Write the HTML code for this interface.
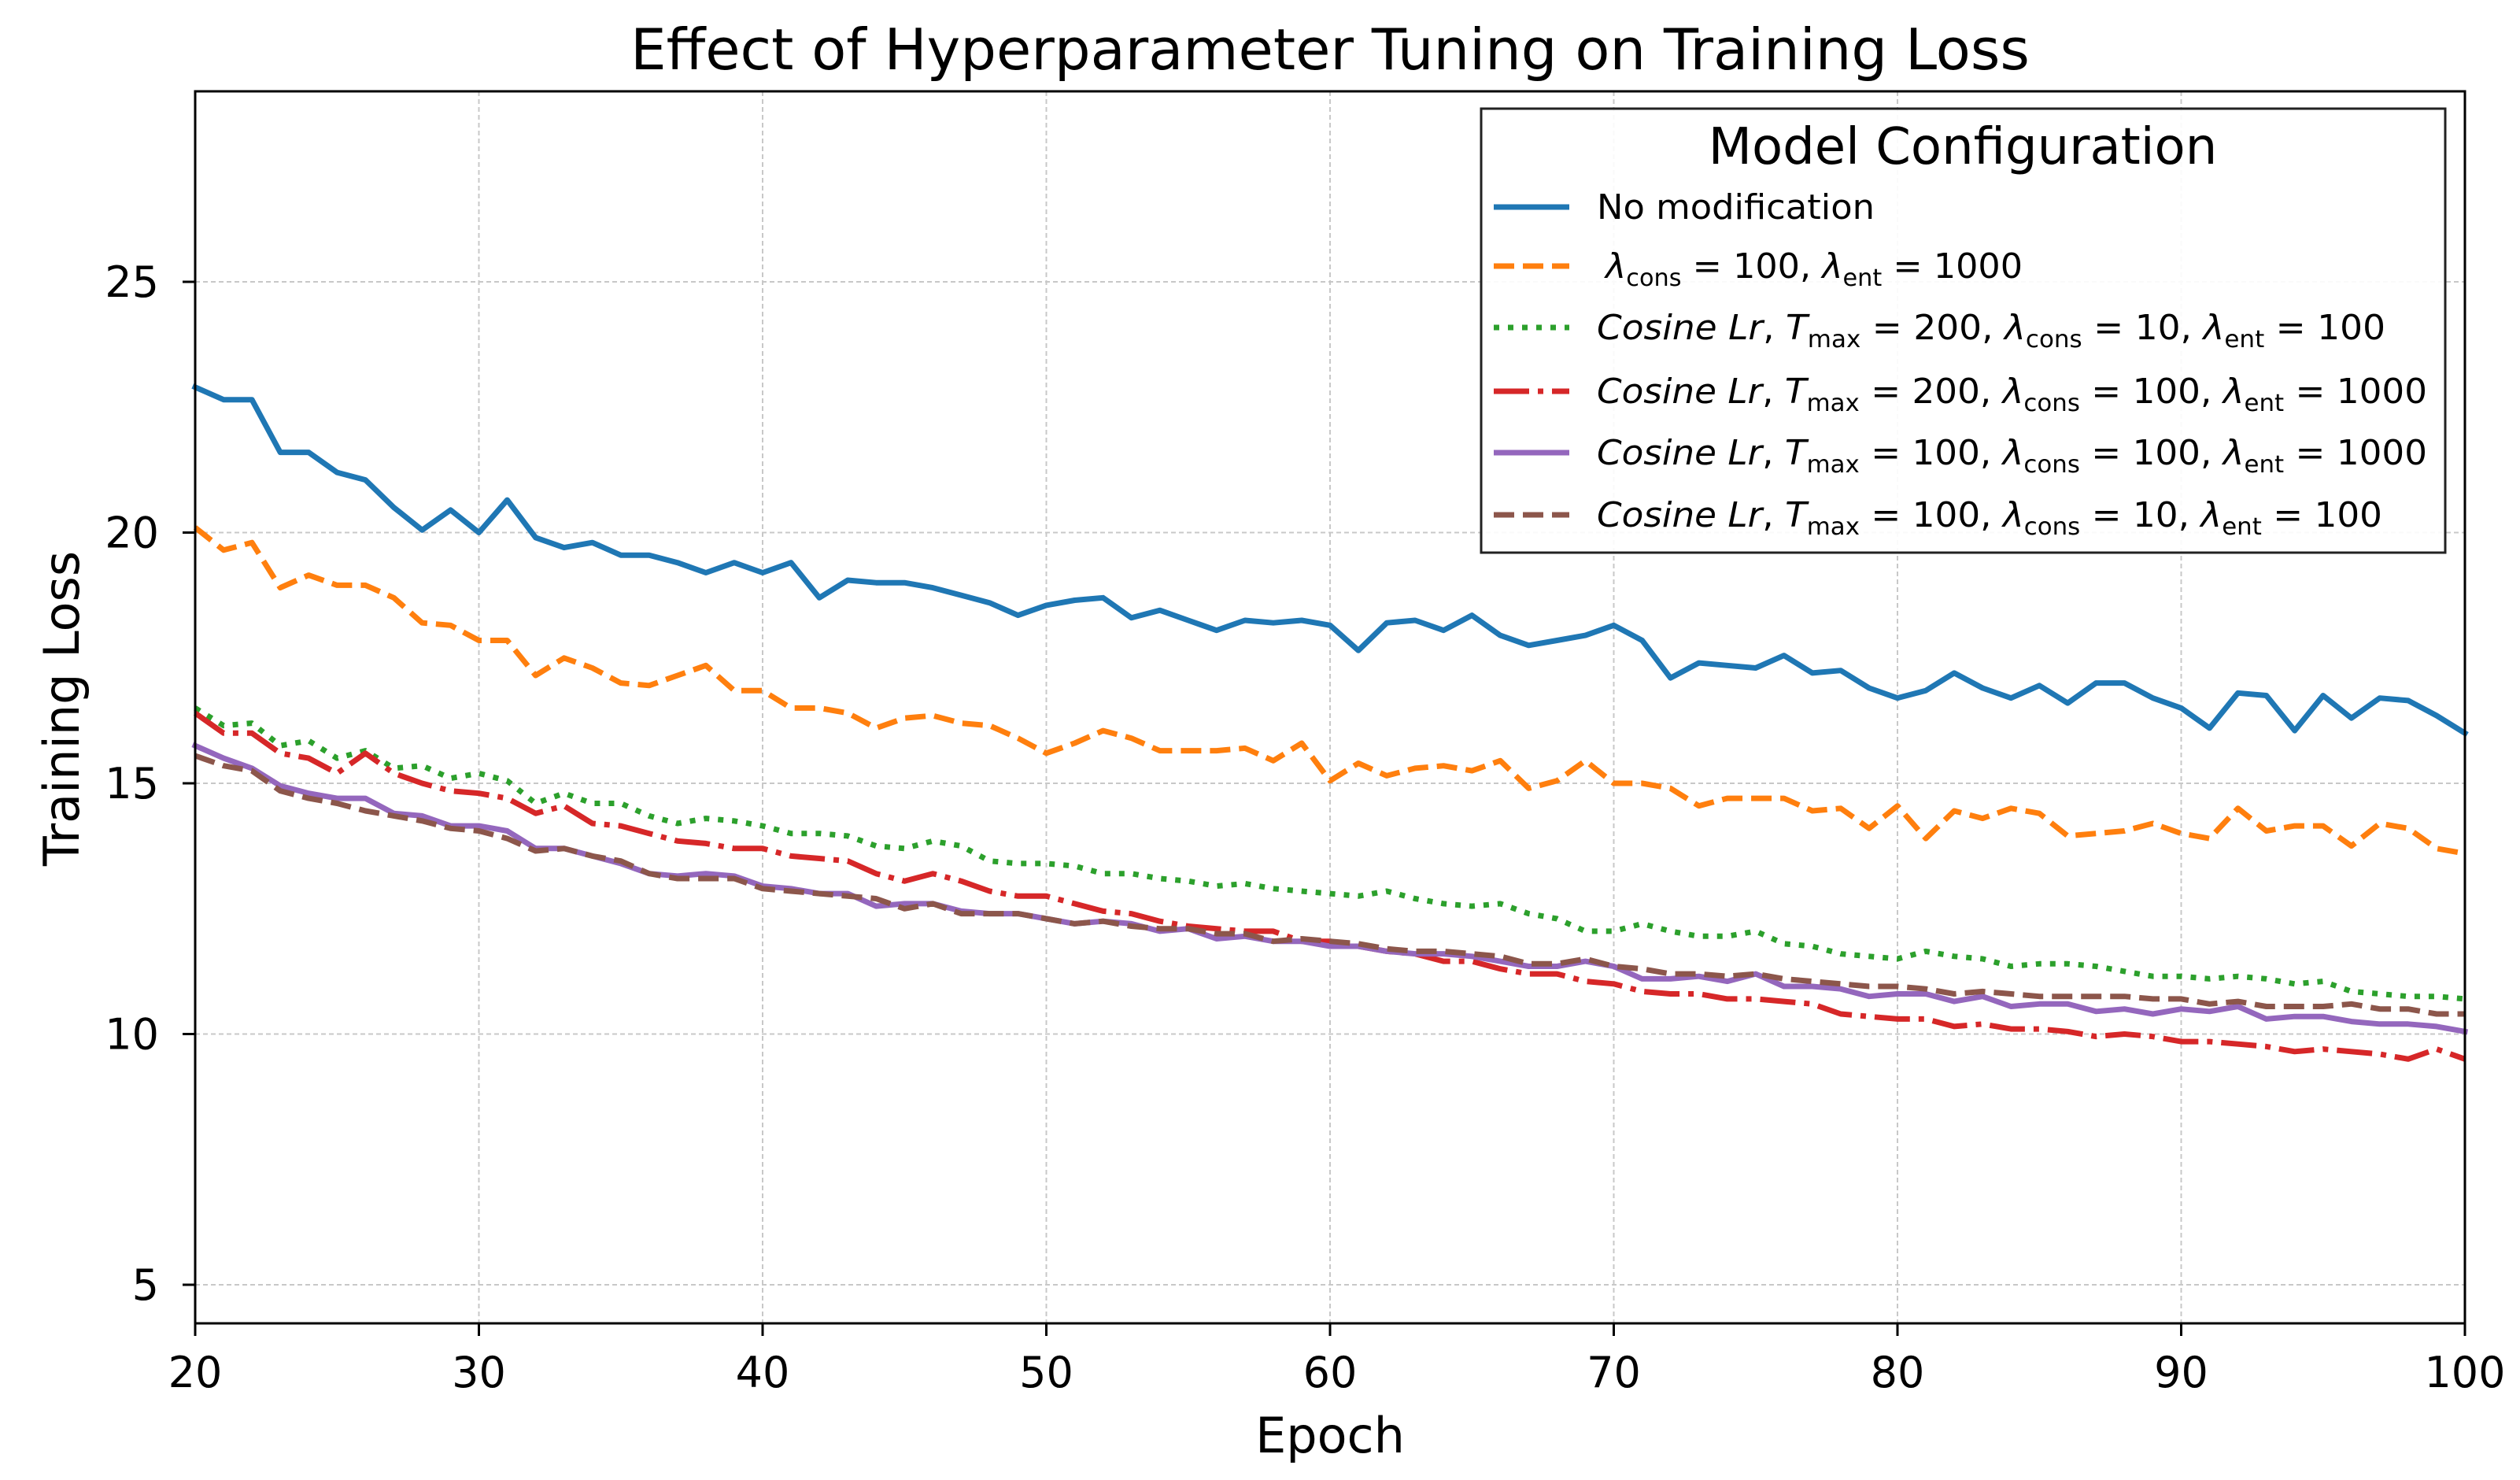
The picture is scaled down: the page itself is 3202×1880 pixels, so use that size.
<!DOCTYPE html>
<html><head><meta charset="utf-8"><style>
html,body{margin:0;padding:0;background:#fff;}
svg{display:block;font-family:"DejaVu Sans","Liberation Sans",sans-serif;}
</style></head><body>
<svg id="chart" width="3202" height="1880" viewBox="0 0 3202 1880" xmlns="http://www.w3.org/2000/svg">
<rect width="3202" height="1880" fill="#fff"/>
<g id="grid"></g>
<g id="series"></g>
<rect x="248" y="116" width="2884" height="1565" fill="none" stroke="#000" stroke-width="3"/>
<g id="ticks"></g>
<text x="1690" y="88" font-size="72" text-anchor="middle">Effect of Hyperparameter Tuning on Training Loss</text>
<text x="1690" y="1845" font-size="62" text-anchor="middle">Epoch</text>
<text x="0" y="0" font-size="62" text-anchor="middle" transform="translate(100,900) rotate(-90)">Training Loss</text>
<g id="legend">
<rect x="1882" y="138" width="1225" height="564" fill="#fff" fill-opacity="0.9" stroke="#222" stroke-width="3"/>
<text x="2494" y="208" font-size="64" text-anchor="middle">Model Configuration</text>
</g>
</svg>
<script>
const epochs = [];
for (let e = 20; e <= 100; e++) epochs.push(e);
const noModification = [22.9,22.65,22.65,21.6,21.6,21.2,21.05,20.5,20.05,20.45,20.0,20.65,19.9,19.7,19.8,19.55,19.55,19.4,19.2,19.4,19.2,19.4,18.7,19.05,19.0,19.0,18.9,18.75,18.6,18.35,18.55,18.65,18.7,18.3,18.45,18.25,18.05,18.25,18.2,18.25,18.15,17.65,18.2,18.25,18.05,18.35,17.95,17.75,17.85,17.95,18.15,17.85,17.1,17.4,17.35,17.3,17.55,17.2,17.25,16.9,16.7,16.85,17.2,16.9,16.7,16.95,16.6,17.0,17.0,16.7,16.5,16.1,16.8,16.75,16.05,16.75,16.3,16.7,16.65,16.35,16.0];
const cons100ent1000 = [20.1,19.65,19.8,18.9,19.15,18.95,18.95,18.7,18.2,18.15,17.85,17.85,17.15,17.5,17.3,17.0,16.95,17.15,17.35,16.85,16.85,16.5,16.5,16.4,16.1,16.3,16.35,16.2,16.15,15.9,15.6,15.8,16.05,15.9,15.65,15.65,15.65,15.7,15.45,15.8,15.05,15.4,15.15,15.3,15.35,15.25,15.45,14.9,15.05,15.45,15.0,15.0,14.9,14.55,14.7,14.7,14.7,14.45,14.5,14.1,14.55,13.9,14.45,14.3,14.5,14.4,13.95,14.0,14.05,14.2,14.0,13.9,14.5,14.05,14.15,14.15,13.75,14.2,14.1,13.7,13.6];
const cosT200c10e100 = [16.5,16.15,16.2,15.75,15.85,15.5,15.65,15.3,15.35,15.1,15.2,15.05,14.6,14.8,14.6,14.6,14.35,14.2,14.3,14.25,14.15,14.0,14.0,13.95,13.75,13.7,13.85,13.75,13.45,13.4,13.4,13.35,13.2,13.2,13.1,13.05,12.95,13.0,12.9,12.85,12.8,12.75,12.85,12.7,12.6,12.55,12.6,12.4,12.3,12.05,12.05,12.2,12.05,11.95,11.95,12.05,11.8,11.75,11.6,11.55,11.5,11.65,11.55,11.5,11.35,11.4,11.4,11.35,11.25,11.15,11.15,11.1,11.15,11.1,11.0,11.05,10.85,10.8,10.75,10.75,10.7];
const cosT200c100e1000 = [16.4,16.0,16.0,15.6,15.5,15.2,15.6,15.2,15.0,14.85,14.8,14.7,14.4,14.55,14.2,14.15,14.0,13.85,13.8,13.7,13.7,13.55,13.5,13.45,13.2,13.05,13.2,13.05,12.85,12.75,12.75,12.6,12.45,12.4,12.25,12.15,12.1,12.05,12.05,11.85,11.85,11.75,11.65,11.6,11.45,11.45,11.3,11.2,11.2,11.05,11.0,10.85,10.8,10.8,10.7,10.7,10.65,10.6,10.4,10.35,10.3,10.3,10.15,10.2,10.1,10.1,10.05,9.95,10.0,9.95,9.85,9.85,9.8,9.75,9.65,9.7,9.65,9.6,9.5,9.7,9.5];
const cosT100c100e1000 = [15.75,15.5,15.3,14.95,14.8,14.7,14.7,14.4,14.35,14.15,14.15,14.05,13.7,13.7,13.55,13.4,13.2,13.15,13.2,13.15,12.95,12.9,12.8,12.8,12.55,12.6,12.6,12.45,12.4,12.4,12.3,12.2,12.25,12.2,12.05,12.1,11.9,11.95,11.85,11.85,11.75,11.75,11.65,11.6,11.6,11.55,11.45,11.35,11.35,11.45,11.35,11.1,11.1,11.15,11.05,11.2,10.95,10.95,10.9,10.75,10.8,10.8,10.65,10.75,10.55,10.6,10.6,10.45,10.5,10.4,10.5,10.45,10.55,10.3,10.35,10.35,10.25,10.2,10.2,10.15,10.05];
const cosT100c10e100 = [15.55,15.35,15.25,14.85,14.7,14.6,14.45,14.35,14.25,14.1,14.05,13.9,13.65,13.7,13.55,13.45,13.2,13.1,13.1,13.1,12.9,12.85,12.8,12.75,12.7,12.5,12.6,12.4,12.4,12.4,12.3,12.2,12.25,12.15,12.1,12.1,12.0,12.0,11.85,11.9,11.85,11.8,11.7,11.65,11.65,11.6,11.55,11.4,11.4,11.5,11.35,11.3,11.2,11.2,11.15,11.2,11.1,11.05,11.0,10.95,10.95,10.9,10.8,10.85,10.8,10.75,10.75,10.75,10.75,10.7,10.7,10.6,10.65,10.55,10.55,10.55,10.6,10.5,10.5,10.4,10.4];
const xTicks = [20,30,40,50,60,70,80,90,100];
const yTicks = [5,10,15,20,25];

const X0=248, X1=3132, Y0=116, Y1=1681, XMIN=20, XMAX=100;
const sx = v => X0 + (v-XMIN)/(XMAX-XMIN)*(X1-X0);
const sy = v => 1632 - (v-5)*63.7;
const NS = "http://www.w3.org/2000/svg";
function mk(tag, attrs, parent){ const el=document.createElementNS(NS,tag); for(const k in attrs) el.setAttribute(k,attrs[k]); parent.appendChild(el); return el; }

const grid=document.getElementById('grid'), ticks=document.getElementById('ticks');
xTicks.forEach(t=>{
  const x=sx(t);
  const g=mk('line',{x1:x,x2:x,y1:Y0,y2:Y1,stroke:'#c8c8c8','stroke-width':2,'stroke-dasharray':'6,4'},grid);
  
  
  const tk=mk('line',{x1:x,x2:x,y1:Y1,y2:Y1+16,stroke:'#000','stroke-width':3},ticks);
  
  
  const tl=mk('text',{x:x,y:1762,'font-size':54,'text-anchor':'middle'},ticks);
  tl.textContent=t;
  
  
});
yTicks.forEach(t=>{
  const y=sy(t);
  const g=mk('line',{x1:X0,x2:X1,y1:y,y2:y,stroke:'#c8c8c8','stroke-width':2,'stroke-dasharray':'6,4'},grid);
  
  
  const tk=mk('line',{x1:X0-16,x2:X0,y1:y,y2:y,stroke:'#000','stroke-width':3},ticks);
  
  
  const tl=mk('text',{x:202,y:y+19,'font-size':54,'text-anchor':'end'},ticks);
  tl.textContent=t;
  
  
});

const seriesDefs=[
 {name:'series-no-modification',data:noModification,color:'#1f77b4',dash:'',cap:'square'},
 {name:'series-cons100-ent1000',data:cons100ent1000,color:'#ff7f0e',dash:'26,11',cap:'butt'},
 {name:'series-cosine-t200-cons10-ent100',data:cosT200c10e100,color:'#2ca02c',dash:'7,11',cap:'butt'},
 {name:'series-cosine-t200-cons100-ent1000',data:cosT200c100e1000,color:'#d62728',dash:'45,11,7,11',cap:'butt'},
 {name:'series-cosine-t100-cons100-ent1000',data:cosT100c100e1000,color:'#9467bd',dash:'',cap:'square'},
 {name:'series-cosine-t100-cons10-ent100',data:cosT100c10e100,color:'#8c564b',dash:'26,11',cap:'butt'}
];
const sg=document.getElementById('series');
seriesDefs.forEach(s=>{
  const d=s.data.map((v,i)=>(i?'L':'M')+sx(epochs[i]).toFixed(1)+','+sy(v).toFixed(1)).join(' ');
  const p=mk('path',{d:d,fill:'none',stroke:s.color,'stroke-width':7,'stroke-linejoin':'round','stroke-linecap':s.cap},sg);
  if(s.dash) p.setAttribute('stroke-dasharray',s.dash);
  
  
});

const lg=document.getElementById('legend');
const rowsY=[263,338,416,497,575,654];
const labels=[
 {html:'No modification',len:353},
 {html:'<tspan font-style="italic">λ</tspan><tspan font-size="30" dy="10">cons</tspan><tspan dy="-10"> = 100,  </tspan><tspan font-style="italic">λ</tspan><tspan font-size="30" dy="10">ent</tspan><tspan dy="-10"> = 1000</tspan>',len:530,x:2040},
 {html:'<tspan font-style="italic">Cosine Lr</tspan>,  <tspan font-style="italic">T</tspan><tspan font-size="30" dy="10">max</tspan><tspan dy="-10"> = 200,  </tspan><tspan font-style="italic">λ</tspan><tspan font-size="30" dy="10">cons</tspan><tspan dy="-10"> = 10,  </tspan><tspan font-style="italic">λ</tspan><tspan font-size="30" dy="10">ent</tspan><tspan dy="-10"> = 100</tspan>',len:1002},
 {html:'<tspan font-style="italic">Cosine Lr</tspan>,  <tspan font-style="italic">T</tspan><tspan font-size="30" dy="10">max</tspan><tspan dy="-10"> = 200,  </tspan><tspan font-style="italic">λ</tspan><tspan font-size="30" dy="10">cons</tspan><tspan dy="-10"> = 100,  </tspan><tspan font-style="italic">λ</tspan><tspan font-size="30" dy="10">ent</tspan><tspan dy="-10"> = 1000</tspan>',len:1055},
 {html:'<tspan font-style="italic">Cosine Lr</tspan>,  <tspan font-style="italic">T</tspan><tspan font-size="30" dy="10">max</tspan><tspan dy="-10"> = 100,  </tspan><tspan font-style="italic">λ</tspan><tspan font-size="30" dy="10">cons</tspan><tspan dy="-10"> = 100,  </tspan><tspan font-style="italic">λ</tspan><tspan font-size="30" dy="10">ent</tspan><tspan dy="-10"> = 1000</tspan>',len:1055},
 {html:'<tspan font-style="italic">Cosine Lr</tspan>,  <tspan font-style="italic">T</tspan><tspan font-size="30" dy="10">max</tspan><tspan dy="-10"> = 100,  </tspan><tspan font-style="italic">λ</tspan><tspan font-size="30" dy="10">cons</tspan><tspan dy="-10"> = 10,  </tspan><tspan font-style="italic">λ</tspan><tspan font-size="30" dy="10">ent</tspan><tspan dy="-10"> = 100</tspan>',len:998}
];
seriesDefs.forEach((s,i)=>{
  const y=rowsY[i];
  const h=mk('line',{x1:1898,x2:1994,y1:y,y2:y,stroke:s.color,'stroke-width':7,'stroke-linecap':'butt'},lg);
  if(s.dash) h.setAttribute('stroke-dasharray',s.dash);
  
  
  const t=mk('text',{x:labels[i].x||2029,y:y+15,'font-size':44,textLength:labels[i].len,lengthAdjust:'spacingAndGlyphs'},lg);
  t.innerHTML=labels[i].html;
  
  
});
</script>
</body></html>
